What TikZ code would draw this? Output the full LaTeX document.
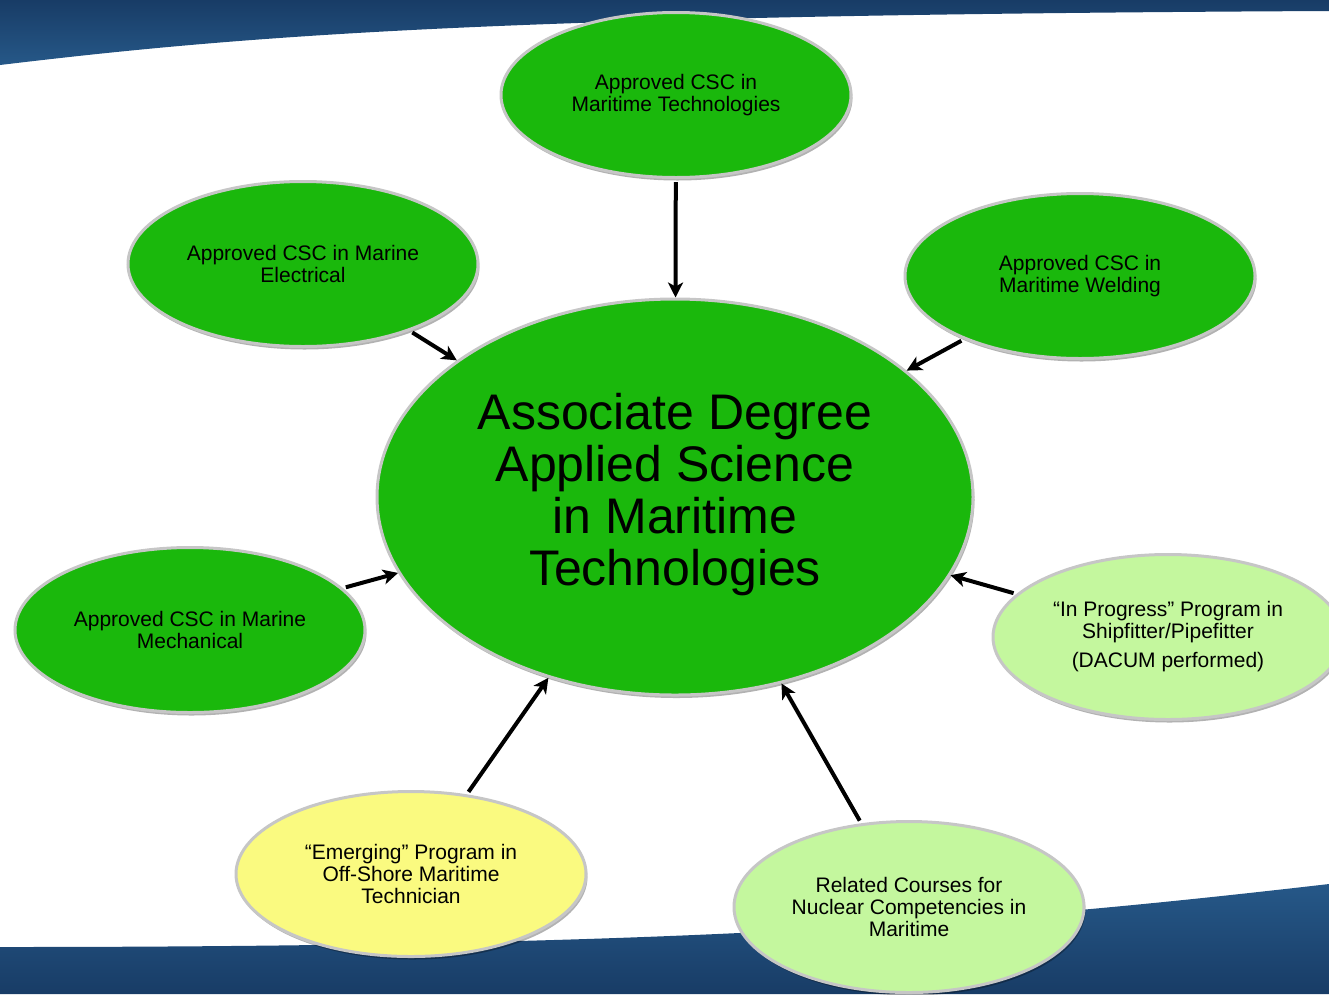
\documentclass[tikz,border=0pt]{standalone}
\usepackage{fontspec}
\setmainfont{Liberation Sans}
\usetikzlibrary{shapes.geometric,arrows.meta,shadows}
\definecolor{dkgreen}{RGB}{26,184,12}
\definecolor{ltgreen}{RGB}{196,247,158}
\definecolor{ltyellow}{RGB}{250,250,128}
\definecolor{bandtop}{RGB}{24,60,102}
\definecolor{bandbot}{RGB}{38,88,136}
\tikzset{
  bubble/.style={ellipse, draw=gray!45, line width=3pt, inner sep=0pt, align=center,
    font=\fontsize{21}{22}\selectfont,
    drop shadow={shadow xshift=1.5pt, shadow yshift=-3pt, opacity=0.3, fill=black}},
  smallbub/.style={bubble, minimum width=350pt, minimum height=165pt},
  bigbub/.style={bubble, minimum width=596pt, minimum height=396pt,
    font=\fontsize{50}{52}\selectfont},
  arr/.style={line width=4pt, -{Stealth[length=15pt,width=15pt,inset=4pt]}, shorten <=3pt},
}
\begin{document}
\begin{tikzpicture}[x=1pt,y=-1pt]
\useasboundingbox (0,0) rectangle (1329,994);
\clip (0,0) rectangle (1329,994);
% background bands
\shade[top color=bandtop, bottom color=bandbot] (0,0) -- (0,65) .. controls (250,35) and (500,15) .. (1329,11) -- (1329,0) -- cycle;
\shade[top color=bandbot, bottom color=bandtop] (0,994) -- (0,947) .. controls (700,947) and (1000,922) .. (1329,884) -- (1329,994) -- cycle;
% nodes
\node[bigbub, fill=dkgreen] (c) at (675,497) {\raisebox{-3pt}{\begin{tabular}{@{}c@{}}Associate Degree\\Applied Science\\in Maritime\\Technologies\end{tabular}}};
\node[smallbub, fill=dkgreen] (top) at (676,95) {Approved CSC in\\Maritime Technologies};
\node[smallbub, fill=dkgreen] (elec) at (303,264) {Approved CSC in Marine\\Electrical};
\node[smallbub, fill=dkgreen] (weld) at (1080,276) {Approved CSC in\\Maritime Welding};
\node[smallbub, fill=dkgreen] (mech) at (190,630) {Approved CSC in Marine\\Mechanical};
\node[smallbub, fill=ltgreen] (prog) at (1168,637) {“In Progress” Program in\\Shipfitter/Pipefitter\\[7pt](DACUM performed)};
\node[smallbub, fill=ltyellow] (emer) at (411,874) {“Emerging” Program in\\Off-Shore Maritime\\Technician};
\node[smallbub, fill=ltgreen, minimum height=171pt] (nuc) at (909,907) {Related Courses for\\Nuclear Competencies in\\Maritime};
% connectors
\foreach \n in {top,elec,weld,mech,prog,emer,nuc}
  \draw[arr] (\n) -- (c);
\end{tikzpicture}
\end{document}
